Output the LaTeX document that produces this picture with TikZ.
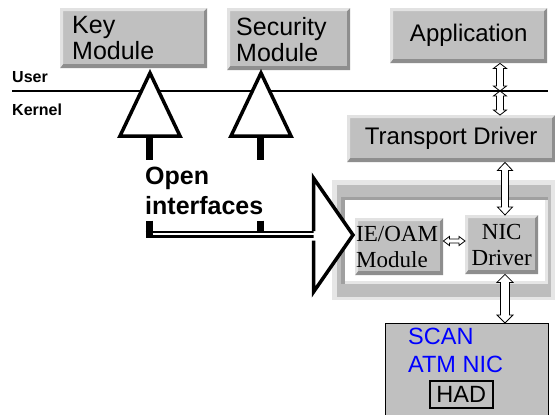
\documentclass[tikz,border=0pt]{standalone}
\usepackage{fontspec}
\setmainfont{Liberation Sans}
\newfontfamily\serifa{Liberation Serif}
\usetikzlibrary{calc}
\definecolor{boxgray}{HTML}{C0C0C0}
\definecolor{bevlight}{HTML}{E2E2E2}
\definecolor{bevdark}{HTML}{8E8E8E}
\definecolor{frlight}{HTML}{E6E6E6}
\definecolor{frmid}{HTML}{BDBDBD}
\definecolor{frdark}{HTML}{A0A0A0}
\definecolor{scanblue}{HTML}{0000FF}
\newcommand\vdarrow[5]{%
  \draw[harr] let \p1=#1, \p2=#2 in
   (\x1,\y1) -- (\x1+#4,\y1-#5) -- (\x1+#3,\y1-#5) -- (\x1+#3,\y2+#5) -- (\x1+#4,\y2+#5)
   -- (\x1,\y2) -- (\x1-#4,\y2+#5) -- (\x1-#3,\y2+#5) -- (\x1-#3,\y1-#5) -- (\x1-#4,\y1-#5) -- cycle;}
\newcommand\hdarrow[5]{%
  \draw[harr] let \p1=#1, \p2=#2 in
   (\x1,\y1) -- (\x1+#5,\y1+#4) -- (\x1+#5,\y1+#3) -- (\x2-#5,\y1+#3) -- (\x2-#5,\y1+#4)
   -- (\x2,\y1) -- (\x2-#5,\y1-#4) -- (\x2-#5,\y1-#3) -- (\x1+#5,\y1-#3) -- (\x1+#5,\y1-#4) -- cycle;}
\tikzset{
  bevel/.style={fill=boxgray, inner sep=0pt, anchor=north west, path picture={
    \path (path picture bounding box.north west) coordinate (pnw)
          (path picture bounding box.north east) coordinate (pne)
          (path picture bounding box.south west) coordinate (psw)
          (path picture bounding box.south east) coordinate (pse);
    \fill[bevlight] (pnw) -- (pne) -- ([xshift=-3pt,yshift=-3pt]pne) -- ([xshift=3pt,yshift=-3pt]pnw)
       -- ([xshift=3pt,yshift=3pt]psw) -- (psw) -- cycle;
    \fill[bevdark] (pse) -- (psw) -- ([xshift=3pt,yshift=4pt]psw) -- ([xshift=-3pt,yshift=4pt]pse)
       -- ([xshift=-3pt,yshift=-3pt]pne) -- (pne) -- cycle;}},
  sansbig/.style={font=\fontsize{24}{26}\selectfont},
  sanstwo/.style={font=\fontsize{25}{26}\selectfont},
  serifbig/.style={font=\serifa\fontsize{23}{26}\selectfont},
  lbl/.style={font=\bfseries\fontsize{16}{18}\selectfont, inner sep=0pt, anchor=base west},
  tri/.style={line width=3.5pt, fill=white},
  stem/.style={line width=7pt},
  harr/.style={draw=black, fill=white, line width=0.8pt, line join=miter},
}
\begin{document}
\begin{tikzpicture}[x=1pt,y=-1pt]
\useasboundingbox (0,0) rectangle (555,415);
\fill[white] (0,0) rectangle (555,415);

% boxes in user space
\node[bevel, sanstwo, minimum width=145pt, minimum height=60pt, text width=123pt, inner xsep=12pt, align=left] (key) at (60,8) {Key\\Module};
\node[bevel, sanstwo, minimum width=121pt, minimum height=62pt, text width=105pt, inner xsep=9pt, align=left] (sec) at (227,8) {Security\\Module};
\node[bevel, sansbig, minimum width=157pt, minimum height=55pt] (app) at (390,8) {Application};

% user / kernel line
\coordinate (ulL) at (12,91);
\coordinate (ulR) at (548,91);
\draw[line width=2.8pt] (ulL) -- (ulR);
\node[lbl] (user) at (12,82) {User};
\node[lbl] (kern) at (12,115) {Kernel};

% transport driver
\node[bevel, sansbig, minimum width=208pt, minimum height=47pt] (tr) at (347,115) {Transport Driver};

% frame around IE/OAM and NIC
\fill[frlight] (332,180) rectangle (555,300);
\fill[frmid] (337,185) rectangle (551,297);
\fill[frdark] (341,197) rectangle (548,284);
\fill[frlight] (345,200) rectangle (548,284);
\fill[white] (345,200) rectangle (545,281);

\node[bevel, serifbig, minimum width=88pt, minimum height=57pt, text width=86pt, inner xsep=1pt, align=left] (ie) at (355,218) {IE/OAM\\Module};
\node[bevel, serifbig, minimum width=73pt, minimum height=59pt, align=center] (nic) at (465,215) {NIC\\Driver};

% SCAN ATM NIC
\node[draw=black, fill=boxgray, line width=1pt, minimum width=163pt, minimum height=92pt, anchor=north west] (scan) at (385,323) {};
\node[font=\fontsize{23.5}{28}\selectfont, text=scanblue, inner sep=0pt, anchor=north west, align=left] (scantxt) at (408,328) {SCAN\\ATM NIC};
\node[draw=black, line width=1.5pt, minimum width=63pt, minimum height=27pt, inner sep=0pt, anchor=north west, font=\fontsize{23.5}{28}\selectfont] (had) at (429,380) {HAD};

% triangles (open interfaces)
\draw[tri] (150,73) -- (180,136) -- (120,136) -- cycle;
\draw[tri] (261,73) -- (291,136) -- (231,136) -- cycle;
\draw[stem] (149.5,136) -- (149.5,160);
\draw[stem] (260,136) -- (260,160);

\node[font=\bfseries\fontsize{25}{30}\selectfont, inner sep=0pt, anchor=north west, align=left] (open) at (145,167) {Open\\interfaces};

\draw[stem] (149,220.5) -- (149,238.3);
\draw[stem] (260,220.5) -- (260,233);
\draw[line width=7.6pt] (145.5,234.5) -- (313.5,234.5);
\draw[white, line width=1.7pt] (152.5,234.2) -- (313.5,234.2);

% big arrow head
\filldraw[line width=3.5pt, fill=white] (313.5,231) -- (313.5,178) -- (353,235) -- (313.5,292) -- (313.5,240.5);

% hollow double arrows
\coordinate (ax1) at (500,0);
\coordinate (ax2) at (505,0);
\coordinate (hy) at (0,241);
\vdarrow{(app.south -| ax1)}{(ulL -| ax1)}{3.5pt}{6.5pt}{5pt}
\vdarrow{(ulL -| ax1)}{(tr.north -| ax1)}{3.5pt}{6.5pt}{5pt}
\draw[line width=2.8pt] (ulL -| ax1) ++(-8,0) -- ++(16,0);
\vdarrow{(tr.south -| ax2)}{(nic.north -| ax2)}{3.5pt}{7.5pt}{8pt}
\vdarrow{(nic.south -| ax2)}{(scan.north -| ax2)}{4.5pt}{8pt}{8pt}
\hdarrow{(ie.east |- hy)}{(nic.west |- hy)}{2pt}{4.5pt}{6pt}
\end{tikzpicture}
\end{document}
